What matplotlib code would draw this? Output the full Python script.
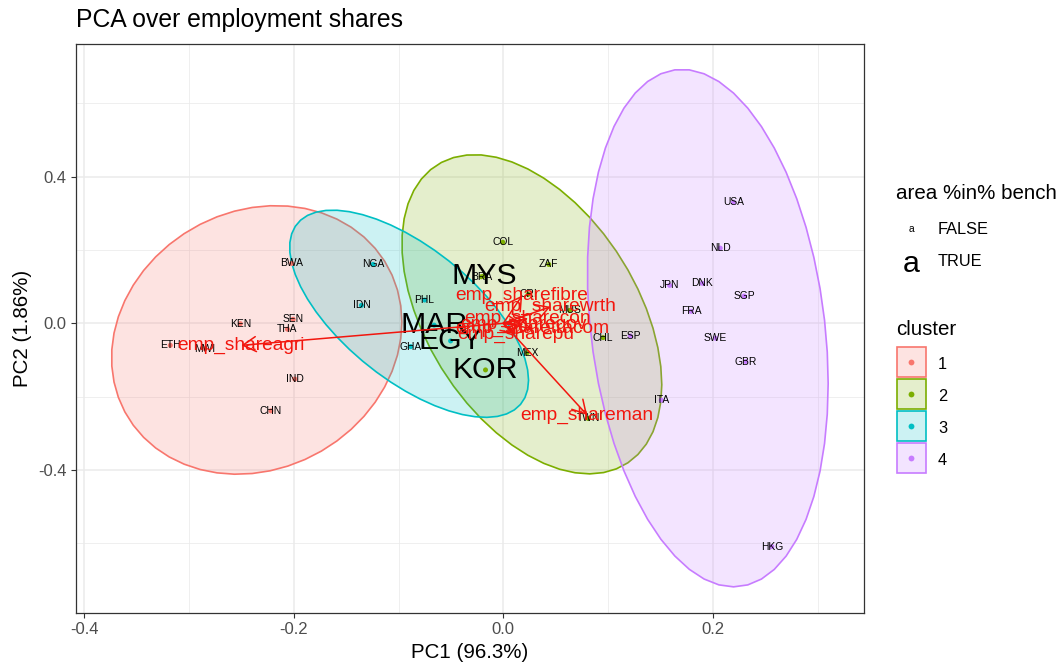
import numpy as np
import matplotlib
matplotlib.use('Agg')
import matplotlib.pyplot as plt
from matplotlib.patches import Polygon, Rectangle

plt.rcParams['font.family'] = ['Liberation Sans', 'DejaVu Sans']

# country scores on the first two components
countries = ['BWA', 'KEN', 'SEN', 'THA', 'ETH', 'MWI', 'IND', 'CHN',
             'COL', 'ZAF', 'BRA', 'MYS', 'CRI', 'MUS', 'CHL', 'MEX', 'TWN', 'KOR',
             'NGA', 'IDN', 'PHL', 'GHA', 'MAR', 'EGY',
             'ESP', 'ITA', 'USA', 'NLD', 'JPN', 'DNK', 'SGP', 'FRA', 'SWE', 'GBR', 'HKG']
pc1 = [-0.2018, -0.2510, -0.2006, -0.2060, -0.3178, -0.2847, -0.1990, -0.2218,
       -0.0005, 0.0434, -0.0210, -0.0186, 0.0237, 0.0634, 0.0952, 0.0228, 0.0809, -0.0170,
       -0.1243, -0.1354, -0.0751, -0.0884, -0.0660, -0.0503,
       0.1212, 0.1507, 0.2196, 0.2070, 0.1587, 0.1900, 0.2298, 0.1793, 0.2025, 0.2314, 0.2562]
pc2 = [0.1633, -0.0010, 0.0110, -0.0160, -0.0600, -0.0690, -0.1520, -0.2386,
       0.2210, 0.1605, 0.1270, 0.1290, 0.0790, 0.0354, -0.0390, -0.0800, -0.2594, -0.1270,
       0.1605, 0.0490, 0.0635, -0.0635, -0.0050, -0.0480,
       -0.0345, -0.2095, 0.3300, 0.2050, 0.1034, 0.1090, 0.0743, 0.0327, -0.0408, -0.1043, -0.6087]
cluster = [1] * 8 + [2] * 10 + [3] * 6 + [4] * 11
bench = ['MYS', 'MAR', 'EGY', 'KOR']

# loadings
load_names = ['emp_shareagri', 'emp_shareman', 'emp_sharefibre', 'emp_sharewrth',
              'emp_sharegov', 'emp_sharecon', 'emp_sharepu', 'emp_sharetracom']
load_pc1 = [-0.250, 0.080, 0.018, 0.045, 0.019, 0.0235, 0.012, 0.0275]
load_pc2 = [-0.060, -0.250, 0.076, 0.045, -0.003, 0.013, -0.030, -0.0145]

cluster_levels = [1, 2, 3, 4]
cluster_colors = {1: '#F8766D', 2: '#7CAE00', 3: '#00BFC4', 4: '#C77CFF'}
load_col = '#F2160E'

W, H = 1062, 663


def fpx(x, y):
    return x / W, 1 - y / H


def norm_ellipse(x, y, level=0.95, segments=51):
    # same recipe as ggplot2::stat_ellipse(type = "norm")
    pts = np.column_stack([x, y])
    dfd = len(pts) - 1
    center = pts.mean(axis=0)
    chol = np.linalg.cholesky(np.cov(pts, rowvar=False)).T
    qf = dfd / 2 * ((1 - level) ** (-2 / dfd) - 1)
    radius = np.sqrt(2 * qf)
    ang = np.linspace(0, 2 * np.pi, segments + 1)
    circle = np.column_stack([np.cos(ang), np.sin(ang)])
    return center + radius * circle @ chol


pc1 = np.array(pc1)
pc2 = np.array(pc2)
cluster = np.array(cluster)

ellipses = {}
for k in cluster_levels:
    m = cluster == k
    ellipses[k] = norm_ellipse(pc1[m], pc2[m])

fig = plt.figure(figsize=(W / 100, H / 100), dpi=100)
l, b = fpx(76, 612.7)
ax = fig.add_axes([l, b, (864 - 76) / W, (612.7 - 44) / H])

# frames
for k in cluster_levels:
    c = cluster_colors[k]
    ax.add_patch(Polygon(ellipses[k], closed=True, facecolor=matplotlib.colors.to_rgba(c, 0.2),
                         edgecolor=c, lw=1.2, zorder=2))

# points and labels
cols = [cluster_colors[k] for k in cluster]
ax.scatter(pc1, pc2, c=cols, s=13, linewidths=0, zorder=3)
for name, x, y in zip(countries, pc1, pc2):
    big = name in bench
    ax.text(x, y, name, fontsize=21.8 if big else 7.4, ha='center', va='center',
            color='black', zorder=4)

# loadings
for name, x, y in zip(load_names, load_pc1, load_pc2):
    ax.annotate('', xy=(x, y), xytext=(0, 0),
                arrowprops=dict(arrowstyle='->,head_length=0.94,head_width=0.54',
                                mutation_scale=10, color=load_col, lw=1.1,
                                shrinkA=0, shrinkB=0), zorder=5)
    ax.text(x, y, name, fontsize=13.8, color=load_col, ha='center', va='center', zorder=6)

# ggplot-like 5% expansion
allx = np.concatenate([pc1, load_pc1, [0]] + [e[:, 0] for e in ellipses.values()])
ally = np.concatenate([pc2, load_pc2, [0]] + [e[:, 1] for e in ellipses.values()])
rx = allx.max() - allx.min()
ry = ally.max() - ally.min()
ax.set_xlim(allx.min() - 0.05 * rx, allx.max() + 0.05 * rx)
ax.set_ylim(ally.min() - 0.05 * ry, ally.max() + 0.05 * ry)

ax.set_xticks([-0.4, -0.2, 0.0, 0.2])
ax.set_xticklabels(['-0.4', '-0.2', '0.0', '0.2'])
ax.set_xticks([-0.3, -0.1, 0.1, 0.3], minor=True)
ax.set_yticks([-0.4, 0.0, 0.4])
ax.set_yticklabels(['-0.4', '0.0', '0.4'])
ax.set_yticks([-0.6, -0.2, 0.2, 0.6], minor=True)
ax.grid(which='major', color='#EBEBEB', lw=1.1, zorder=0)
ax.grid(which='minor', color='#EBEBEB', lw=0.55, zorder=0)
ax.set_axisbelow(True)
ax.tick_params(which='major', length=3.7, width=0.8, color='#333333',
               labelsize=12, labelcolor='#4D4D4D', pad=3)
ax.tick_params(which='minor', length=0)
for s in ax.spines.values():
    s.set_color('#333333')
    s.set_linewidth(0.9)

fig.text(*fpx(76, 26.7), 'PCA over employment shares', fontsize=17.8, va='baseline', ha='left')
fig.text(*fpx(470, 658), 'PC1 (96.3%)', fontsize=14.8, va='baseline', ha='center')
fig.text(*fpx(23, 328), 'PC2 (1.86%)', fontsize=14.8, va='center', ha='center', rotation=90)

# legend: label size
fig.text(*fpx(896, 199), 'area %in% bench', fontsize=14.8, va='baseline', ha='left')
fig.text(*fpx(911, 232), 'a', fontsize=7.4, va='baseline', ha='center')
fig.text(*fpx(938, 234), 'FALSE', fontsize=11.8, va='baseline', ha='left')
fig.text(*fpx(911, 271.7), 'a', fontsize=21.8, va='baseline', ha='center')
fig.text(*fpx(938, 266), 'TRUE', fontsize=11.8, va='baseline', ha='left')

# legend: cluster
fig.text(*fpx(896, 335), 'cluster', fontsize=14.8, va='baseline', ha='left')
for i, k in enumerate(cluster_levels):
    top = 347.3 + 32 * i
    c = cluster_colors[k]
    x0, y0 = fpx(896.5, top + 30)
    fig.add_artist(Rectangle((x0, y0), 29.5 / W, 30 / H, transform=fig.transFigure,
                             facecolor=matplotlib.colors.to_rgba(c, 0.2), edgecolor=c, lw=1.2))
    fig.add_artist(plt.Line2D([fpx(911, 0)[0]], [fpx(0, top + 15)[1]], marker='o',
                              markersize=4.2, color=c, markeredgewidth=0,
                              transform=fig.transFigure))
    fig.text(*fpx(938, top + 21.7), str(k), fontsize=11.8, va='baseline', ha='left')

fig.savefig('out.png', dpi=100)
